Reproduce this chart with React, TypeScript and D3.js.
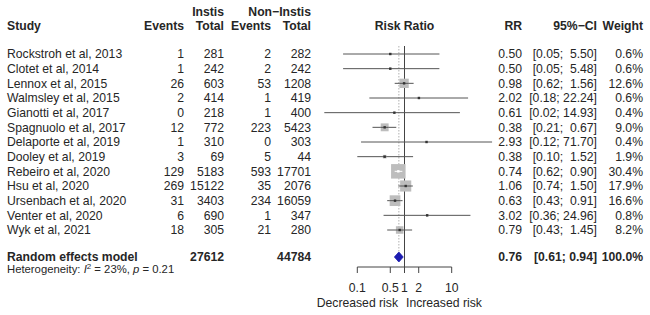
import React from "react";
import * as d3 from "d3";

// Study-level data
const studies = [
  "Rockstroh et al, 2013",
  "Clotet et al, 2014",
  "Lennox et al, 2015",
  "Walmsley et al, 2015",
  "Gianotti et al, 2017",
  "Spagnuolo et al, 2017",
  "Delaporte et al, 2019",
  "Dooley et al, 2019",
  "Rebeiro et al, 2020",
  "Hsu et al, 2020",
  "Ursenbach et al, 2020",
  "Venter et al, 2020",
  "Wyk et al, 2021",
];
const instisEvents = [1, 1, 26, 2, 0, 12, 1, 3, 129, 269, 31, 6, 18];
const instisTotal = [281, 242, 603, 414, 218, 772, 310, 69, 5183, 15122, 3403, 690, 305];
const nonEvents = [2, 2, 53, 1, 1, 223, 0, 5, 593, 35, 234, 1, 21];
const nonTotal = [282, 242, 1208, 419, 400, 5423, 303, 44, 17701, 2076, 16059, 347, 280];
const rr = [0.5, 0.5, 0.98, 2.02, 0.61, 0.38, 2.93, 0.38, 0.74, 1.06, 0.63, 3.02, 0.79];
const ciLow = [0.05, 0.05, 0.62, 0.18, 0.02, 0.21, 0.12, 0.1, 0.62, 0.74, 0.43, 0.36, 0.43];
const ciHigh = [5.5, 5.48, 1.56, 22.24, 14.93, 0.67, 71.7, 1.52, 0.9, 1.5, 0.91, 24.96, 1.45];
const weights = [0.6, 0.6, 12.6, 0.6, 0.4, 9.0, 0.4, 1.9, 30.4, 17.9, 16.6, 0.8, 8.2];

// Pooled estimate
const pooledRR = 0.76;
const pooledLow = 0.61;
const pooledHigh = 0.94;
const pooledInstisTotal = 27612;
const pooledNonTotal = 44784;
const i2 = "23%";
const pValue = "0.21";

const axisTicks = [0.1, 0.5, 1, 2, 10];

const FONT = "'Liberation Sans', Arial, Helvetica, sans-serif";
const TEXT = "#262626";

const fmt2 = d3.format(".2f");
const fmt1 = d3.format(".1f");

export default function App() {
  const x = d3.scaleLog().domain([0.1, 10]).range([357.3, 451.7]);
  const y = d3.scaleLinear().domain([0, studies.length - 1]).range([54, 230]);
  const side = d3.scaleSqrt().domain([0, 30.4]).range([0, 14.5]);
  const pooledY = 257;
  const axisY = 267;
  const plotTop = 46;
  const base = 4.3; // baseline offset for 12px text

  const ciText = (lo: number, hi: number) => {
    const h = fmt2(hi);
    return `[${fmt2(lo)};${hi < 10 ? "  " : " "}${h}]`;
  };

  return (
    <svg
      width={650}
      height={315}
      style={{ position: "absolute", left: 0, top: 0, background: "#fff" }}
      fontFamily={FONT}
      fontSize={12.2}
      fill={TEXT}
    >
      {/* headers */}
      <g fontWeight="bold">
        <text x={224} y={12 + base} textAnchor="end">Instis</text>
        <text x={311} y={12 + base} textAnchor="end">Non−Instis</text>
        <text x={7} y={26 + base}>Study</text>
        <text x={184} y={26 + base} textAnchor="end">Events</text>
        <text x={224} y={26 + base} textAnchor="end">Total</text>
        <text x={271} y={26 + base} textAnchor="end">Events</text>
        <text x={311} y={26 + base} textAnchor="end">Total</text>
        <text x={x(1)} y={26 + base} textAnchor="middle">Risk Ratio</text>
        <text x={522} y={26 + base} textAnchor="end">RR</text>
        <text x={597} y={26 + base} textAnchor="end">95%−CI</text>
        <text x={643} y={26 + base} textAnchor="end">Weight</text>
      </g>

      {/* study rows: table text */}
      {studies.map((s, i) => (
        <g key={s}>
          <text x={7} y={y(i) + base}>{s}</text>
          <text x={184} y={y(i) + base} textAnchor="end">{instisEvents[i]}</text>
          <text x={224} y={y(i) + base} textAnchor="end">{instisTotal[i]}</text>
          <text x={271} y={y(i) + base} textAnchor="end">{nonEvents[i]}</text>
          <text x={311} y={y(i) + base} textAnchor="end">{nonTotal[i]}</text>
          <text x={522} y={y(i) + base} textAnchor="end">{fmt2(rr[i])}</text>
          <text x={597} y={y(i) + base} textAnchor="end" style={{ whiteSpace: "pre" }}>
            {ciText(ciLow[i], ciHigh[i])}
          </text>
          <text x={643} y={y(i) + base} textAnchor="end">{fmt1(weights[i])}%</text>
        </g>
      ))}

      {/* pooled row text */}
      <g fontWeight="bold">
        <text x={7} y={261}>Random effects model</text>
        <text x={224} y={261} textAnchor="end">{pooledInstisTotal}</text>
        <text x={311} y={261} textAnchor="end">{pooledNonTotal}</text>
        <text x={522} y={261} textAnchor="end">{fmt2(pooledRR)}</text>
        <text x={597} y={261} textAnchor="end" style={{ whiteSpace: "pre" }}>
          {`[${fmt2(pooledLow)}; ${fmt2(pooledHigh)}]`}
        </text>
        <text x={643} y={261} textAnchor="end">100.0%</text>
      </g>
      <text x={7} y={273} fontSize={11.3} style={{ whiteSpace: "pre" }}>
        Heterogeneity: <tspan fontStyle="italic">I</tspan>
        <tspan dy={-4} fontSize={8}>2</tspan>
        <tspan dy={4}> = {i2}, </tspan>
        <tspan fontStyle="italic">p</tspan> = {pValue}
      </text>

      {/* reference lines */}
      <line
        x1={x(pooledRR)}
        x2={x(pooledRR)}
        y1={plotTop}
        y2={pooledY - 5}
        stroke="#b0b0b0"
        strokeWidth={1}
        strokeDasharray="1.5,1.5"
      />
      <line x1={x(1)} x2={x(1)} y1={plotTop} y2={axisY} stroke="#444" strokeWidth={1} />

      {/* study estimates */}
      {studies.map((s, i) => {
        const cy = y(i);
        const w = side(weights[i]);
        const cx = x(rr[i]);
        const inside = x(ciLow[i]) >= cx - w / 2 && x(ciHigh[i]) <= cx + w / 2;
        return (
          <g key={"m" + s}>
            <line x1={x(ciLow[i])} x2={x(ciHigh[i])} y1={cy} y2={cy} stroke="#555" strokeWidth={1} />
            <rect x={cx - w / 2} y={cy - w / 2} width={w} height={w} fill="#bdbdbd" />
            {inside ? (
              <line x1={x(ciLow[i])} x2={x(ciHigh[i])} y1={cy} y2={cy} stroke="#fff" strokeWidth={1} />
            ) : (
              <line
                x1={Math.max(x(ciLow[i]), cx - w / 2)}
                x2={Math.min(x(ciHigh[i]), cx + w / 2)}
                y1={cy}
                y2={cy}
                stroke="#555"
                strokeWidth={1}
              />
            )}
            <rect x={cx - 1.2} y={cy - 1.2} width={2.4} height={2.4} fill={inside ? "#fff" : "#333"} />
          </g>
        );
      })}

      {/* pooled diamond */}
      <polygon
        points={[
          [x(pooledLow), pooledY],
          [x(pooledRR), pooledY - 5],
          [x(pooledHigh), pooledY],
          [x(pooledRR), pooledY + 5],
        ]
          .map((p) => p.join(","))
          .join(" ")}
        fill="#1c1cb0"
        stroke="#1c1cb0"
        strokeWidth={0.8}
      />

      {/* x axis */}
      <g stroke="#444" strokeWidth={1}>
        <line x1={x(0.1)} x2={x(10)} y1={axisY} y2={axisY} />
        {axisTicks.map((t) => (
          <line key={t} x1={x(t)} x2={x(t)} y1={axisY} y2={axisY + 6} />
        ))}
      </g>
      {axisTicks.map((t) => (
        <text key={"l" + t} x={x(t)} y={292} textAnchor="middle">
          {t}
        </text>
      ))}
      <text x={398} y={307} textAnchor="end">Decreased risk</text>
      <text x={406} y={307}>Increased risk</text>
    </svg>
  );
}
